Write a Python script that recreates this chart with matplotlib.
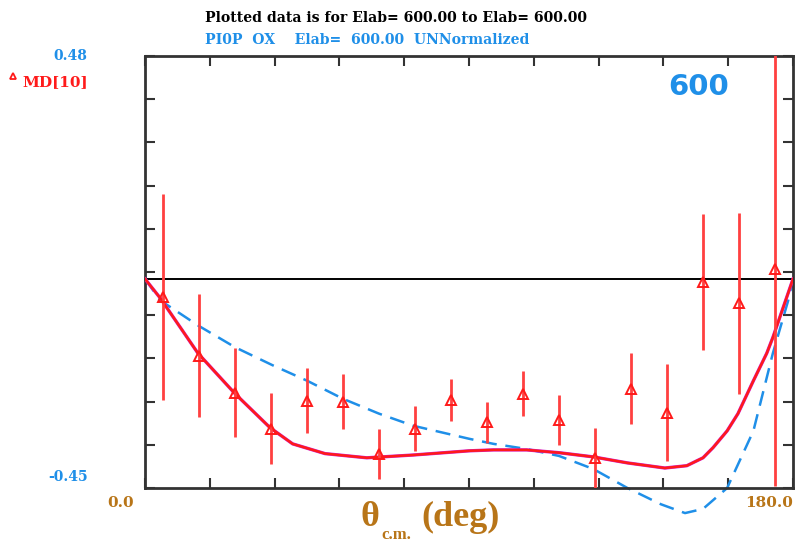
import numpy as np
import matplotlib
matplotlib.use("Agg")
import matplotlib.pyplot as plt

# measured asymmetry points (deg, value, error)
theta = [5, 15, 25, 35, 45, 55, 65, 75, 85, 95, 105, 115, 125, 135, 145, 155, 165, 175]
md10 = [-0.039, -0.165, -0.245, -0.322, -0.262, -0.264, -0.376, -0.322, -0.260,
        -0.309, -0.247, -0.303, -0.385, -0.236, -0.288, -0.007, -0.052, 0.021]
md10_err = [0.222, 0.132, 0.096, 0.077, 0.070, 0.059, 0.054, 0.048, 0.045,
            0.044, 0.049, 0.054, 0.065, 0.077, 0.104, 0.146, 0.195, 0.467]

# current solution (solid)
fit_theta = [0, 4.2, 14.7, 25, 34.7, 41, 50, 61.6, 74.5, 90, 96.8, 106, 115, 124.5,
             134, 144.4, 150.5, 155, 157.8, 161.7, 164.7, 169, 172.7, 174.4, 180]
fit_val = [0.0, -0.041, -0.160, -0.247, -0.320, -0.355, -0.376, -0.385, -0.379,
           -0.370, -0.368, -0.368, -0.374, -0.383, -0.396, -0.407, -0.402, -0.385,
           -0.363, -0.327, -0.290, -0.219, -0.160, -0.126, 0.0]

# comparison solution (dashed)
ref_theta = [0, 4.2, 14.7, 25, 35.5, 45, 55, 65, 74.5, 90, 96.8, 106, 115, 124.5,
             134, 143.3, 150, 155, 161.7, 169, 174.4, 178.6, 180]
ref_val = [0.0, -0.046, -0.100, -0.147, -0.186, -0.219, -0.258, -0.290, -0.316,
           -0.344, -0.355, -0.366, -0.381, -0.409, -0.450, -0.485, -0.504, -0.495,
           -0.450, -0.327, -0.160, -0.048, 0.0]

ymin, ymax = -0.45, 0.48
blue = "#1f8fe8"
red = "#ff1a1a"
brown = "#b87518"

fig = plt.figure(figsize=(7.97, 5.43), dpi=100)
ax = fig.add_axes([0.182, 0.1013, 0.813, 0.7956])

ax.axhline(0, color="black", lw=1.4, zorder=1)
ax.plot(ref_theta, ref_val, color=blue, lw=1.8, dashes=(6, 3.5), clip_on=False, zorder=2)
ax.plot(fit_theta, fit_val, color="#d020d0", lw=2.4, zorder=3)
ax.plot(fit_theta, fit_val, color=red, lw=1.8, zorder=4)
ax.errorbar(theta, md10, yerr=md10_err, fmt="^", ms=7, mfc="none", mec=red, mew=1.4,
            ecolor="#ff4040", elinewidth=2.0, capsize=0, zorder=5)

ax.set_xlim(0, 180)
ax.set_ylim(ymin, ymax)
ax.set_xticks(np.arange(0, 181, 18))
ax.set_yticks(np.linspace(ymin, ymax, 11))
ax.tick_params(direction="in", length=7, width=1.5, color="#333333",
               top=True, right=True, labelbottom=False, labelleft=False)
for s in ax.spines.values():
    s.set_linewidth(2)
    s.set_color("#333333")

serif = "DejaVu Serif"
fig.text(205 / 797, 1 - 18 / 543, "Plotted data is for Elab= 600.00 to Elab= 600.00",
         fontsize=10.1, fontweight="bold", family=serif, va="center", ha="left")
fig.text(205 / 797, 1 - 40 / 543, "PI0P  OX    Elab=  600.00  UNNormalized",
         fontsize=10.1, fontweight="bold", family=serif, color=blue, va="center", ha="left")
fig.text(87 / 797, 1 - 56 / 543, "0.48", fontsize=10, fontweight="bold", family=serif,
         color=blue, va="center", ha="right")
fig.text(88 / 797, 1 - 82 / 543, "MD[10]", fontsize=11, fontweight="bold", family=serif,
         color=red, va="center", ha="right")
fig.lines.append(plt.Line2D([13 / 797], [1 - 76 / 543], marker="^", ms=5, mfc="none",
                            mec=red, mew=1.3, transform=fig.transFigure))
fig.text(88 / 797, 1 - 477 / 543, "-0.45", fontsize=10, fontweight="bold", family=serif,
         color=blue, va="center", ha="right")
fig.text(121 / 797, 1 - 503 / 543, "0.0", fontsize=11, fontweight="bold", family=serif,
         color=brown, va="center", ha="center")
fig.text(793 / 797, 1 - 503 / 543, "180.0", fontsize=11, fontweight="bold", family=serif,
         color=brown, va="center", ha="right")
fig.text(699 / 797, 1 - 87 / 543, "600", fontsize=21, fontweight="bold", family="DejaVu Sans",
         color=blue, va="center", ha="center")

# axis title: theta with c.m. subscript
tfont = "Liberation Serif"
fig.text(360 / 797, 1 - 518 / 543, "θ", fontsize=26, fontweight="bold", family=tfont,
         color=brown, va="center", ha="left")
fig.text(381 / 797, 1 - 535 / 543, "c.m.", fontsize=12, fontweight="bold", family=tfont,
         color=brown, va="center", ha="left")
fig.text(421 / 797, 1 - 517 / 543, "(deg)", fontsize=26, fontweight="bold", family=tfont,
         color=brown, va="center", ha="left")

fig.savefig("out.png", dpi=100)
